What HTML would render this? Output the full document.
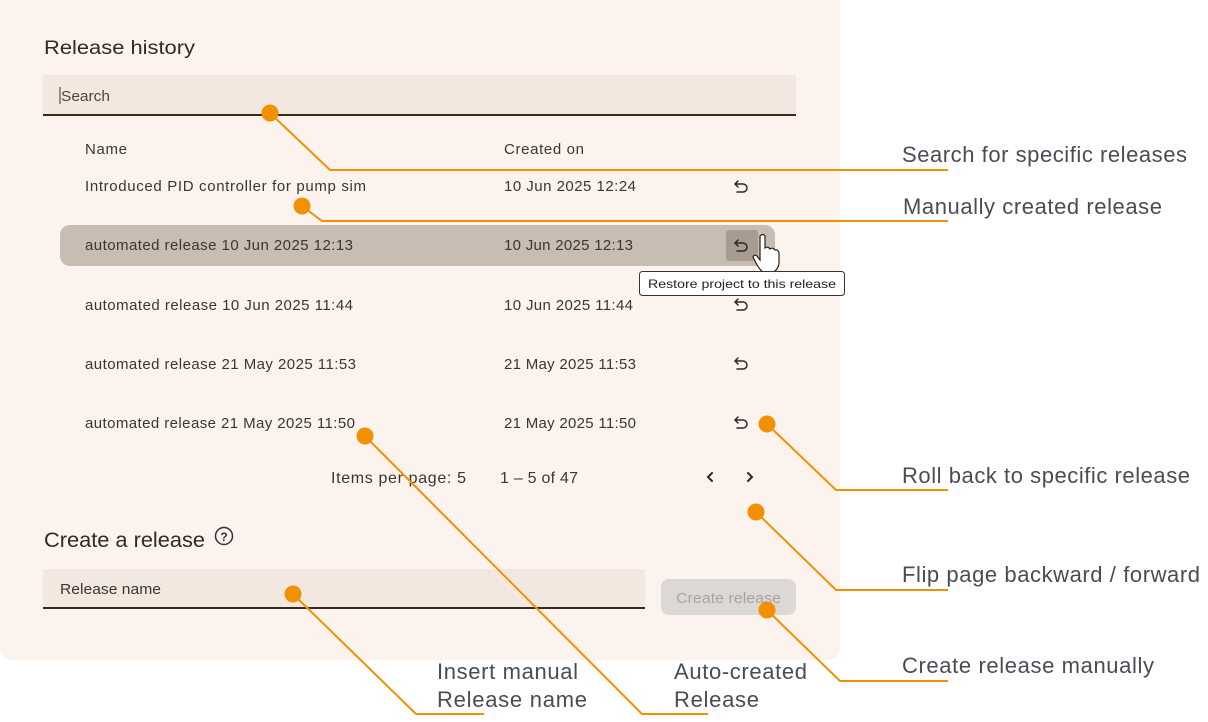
<!DOCTYPE html>
<html><head><meta charset="utf-8"><style>
html,body{margin:0;padding:0;background:#fff;}
svg{display:block;font-family:"Liberation Sans",sans-serif;}
</style></head><body>
<svg width="1208" height="722" viewBox="0 0 1208 722" xmlns="http://www.w3.org/2000/svg">
<rect x="0" y="-12" width="840" height="672" rx="12" fill="#fcf3ef"/>
<text x="44" y="54" font-size="19" fill="#2e2a28" textLength="151" lengthAdjust="spacingAndGlyphs">Release history</text>
<rect x="43" y="75" width="753" height="41" fill="#f2e8df"/>
<rect x="43" y="114" width="753" height="2" fill="#3a2a1e"/>
<line x1="60" y1="87" x2="60" y2="104" stroke="#333" stroke-width="1"/>
<text x="61" y="101" font-size="15" fill="#4a4542" textLength="49" lengthAdjust="spacingAndGlyphs">Search</text>
<g font-size="15" fill="#3a3634" lengthAdjust="spacingAndGlyphs">
<text x="85" y="154" textLength="42">Name</text><text x="504" y="154" textLength="80">Created on</text>
<text x="85" y="191" textLength="281">Introduced PID controller for pump sim</text><text x="504" y="191" textLength="132">10 Jun 2025 12:24</text>
</g>
<rect x="60" y="225" width="715" height="41" rx="10" fill="#c8bdb3"/>
<rect x="726" y="230" width="32" height="31" rx="3" fill="#a89c92"/>
<g font-size="15" fill="#3a3634">
<text x="85" y="250" textLength="268">automated release 10 Jun 2025 12:13</text><text x="504" y="250" textLength="129">10 Jun 2025 12:13</text>
<text x="85" y="310" textLength="268">automated release 10 Jun 2025 11:44</text><text x="504" y="310" textLength="129">10 Jun 2025 11:44</text>
<text x="85" y="369" textLength="271">automated release 21 May 2025 11:53</text><text x="504" y="369" textLength="132">21 May 2025 11:53</text>
<text x="85" y="428" textLength="270">automated release 21 May 2025 11:50</text><text x="504" y="428" textLength="132">21 May 2025 11:50</text>
</g>
<g fill="none" stroke="#2a2a2a" stroke-width="1.5" stroke-linecap="round">
<path d="M738 181 l-3 3 l3 3 M735 184 h8 a4 4 0 0 1 0 8 h-6"/>
<path d="M738 240 l-3 3 l3 3 M735 243 h8 a4 4 0 0 1 0 8 h-6"/>
<path d="M738 299 l-3 3 l3 3 M735 302 h8 a4 4 0 0 1 0 8 h-6"/>
<path d="M738 358 l-3 3 l3 3 M735 361 h8 a4 4 0 0 1 0 8 h-6"/>
<path d="M738 417 l-3 3 l3 3 M735 420 h8 a4 4 0 0 1 0 8 h-6"/>
<path d="M712 473 l-4 4 l4 4 M748 473 l4 4 l-4 4" stroke-width="2"/>
</g>
<path d="M760 236 q3 -3 5 0 v12 q3 -2 5 1 q3 -2 5 1 q3 -1 4 3 v10 q-1 8 -8 10 h-6 q-5 -2 -9 -10 l-3 -6 q1 -3 4 -1 l3 4 z" fill="#fff" stroke="#222" stroke-width="1.2"/>
<rect x="639.5" y="271.5" width="205" height="24" rx="3" fill="#fff" stroke="#333"/>
<text x="648" y="288" font-size="12" fill="#222" textLength="188" lengthAdjust="spacingAndGlyphs">Restore project to this release</text>
<g font-size="16" fill="#3a3634">
<text x="331" y="483" textLength="135">Items per page: 5</text><text x="500" y="483" textLength="78">1 – 5 of 47</text>
</g>
<text x="44" y="547" font-size="21" fill="#2e2a28" textLength="161" lengthAdjust="spacingAndGlyphs">Create a release</text>
<circle cx="224" cy="536" r="8.5" fill="none" stroke="#333" stroke-width="1.5"/>
<text x="224" y="541" font-size="12" fill="#333" text-anchor="middle" font-weight="bold">?</text>
<rect x="43" y="569" width="602" height="40" fill="#f2e8df"/>
<rect x="43" y="607" width="602" height="2" fill="#3a2a1e"/>
<text x="60" y="594" font-size="15" fill="#3a3634" textLength="101" lengthAdjust="spacingAndGlyphs">Release name</text>
<rect x="661" y="579" width="135" height="36" rx="8" fill="#dcd8d5"/>
<text x="676" y="603" font-size="15" fill="#a9a5a2" textLength="105" lengthAdjust="spacingAndGlyphs">Create release</text>
<g fill="none" stroke="#f29100" stroke-width="2">
<polyline points="270,113 330,170 948,170"/>
<polyline points="302,206 322,221 948,221"/>
<polyline points="767,424 836,490 948,490"/>
<polyline points="756,512 836,590 948,590"/>
<polyline points="767,610 840,681 948,681"/>
<polyline points="293,594 416,714 484,714"/>
<polyline points="365,436 642,714 708,714"/>
</g>
<g fill="#f29100">
<circle cx="270" cy="113" r="8.5"/><circle cx="302" cy="206" r="8.5"/><circle cx="767" cy="424" r="8.5"/>
<circle cx="756" cy="512" r="8.5"/><circle cx="767" cy="610" r="8.5"/><circle cx="293" cy="594" r="8.5"/><circle cx="365" cy="436" r="8.5"/>
</g>
<g font-size="22" fill="#4a4c55" lengthAdjust="spacingAndGlyphs">
<text x="902" y="162" textLength="285">Search for specific releases</text>
<text x="903" y="214" textLength="259">Manually created release</text>
<text x="902" y="483" textLength="288">Roll back to specific release</text>
<text x="902" y="582" textLength="298">Flip page backward / forward</text>
<text x="902" y="673" textLength="252">Create release manually</text>
<text x="437" y="679" textLength="141">Insert manual</text><text x="437" y="707" textLength="150">Release name</text>
<text x="674" y="679" textLength="133">Auto-created</text><text x="674" y="707" textLength="85">Release</text>
</g>
</svg>
</body></html>
